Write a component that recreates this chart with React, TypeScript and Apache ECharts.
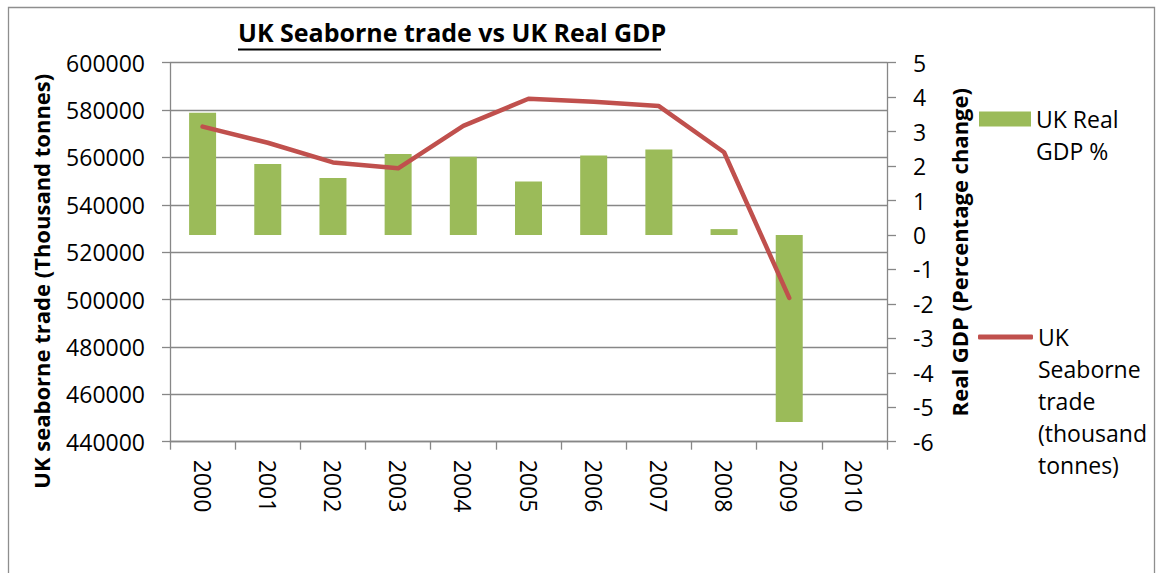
import React, { useEffect, useRef } from 'react';
import * as echarts from 'echarts';

const years = ['2000', '2001', '2002', '2003', '2004', '2005', '2006', '2007', '2008', '2009', '2010'];
const gdpGrowth = [3.55, 2.06, 1.65, 2.35, 2.27, 1.55, 2.31, 2.48, 0.17, -5.43, null];
const seaborneTrade = [573000, 566200, 557900, 555400, 573300, 584800, 583500, 581700, 562200, 500700, null];

const gdpName = 'UK Real GDP %';
const tradeName = 'UK Seaborne trade (thousand tonnes)';

export default function App() {
  const ref = useRef<HTMLDivElement>(null);
  useEffect(() => {
    const chart = echarts.init(ref.current as HTMLDivElement, null, { renderer: 'svg' });
    const font = "'Open Sans', sans-serif";
    const gray = '#878787';
    chart.setOption({
      animation: false,
      backgroundColor: '#ffffff',
      title: {
        text: 'UK Seaborne trade vs UK Real GDP',
        left: 238,
        top: 19,
        padding: 0,
        textStyle: { fontFamily: font, fontSize: 25, fontWeight: 'bold', color: '#000' },
      },
      graphic: [
        {
          type: 'rect',
          silent: true,
          z: -10,
          shape: { x: 8.5, y: 7.5, width: 1146, height: 640 },
          style: { fill: 'none', stroke: '#8e8e8e', lineWidth: 1.3 },
        },
        {
          type: 'line',
          silent: true,
          shape: { x1: 238, y1: 49.5, x2: 661, y2: 49.5 },
          style: { stroke: '#000', lineWidth: 2 },
        },
      ],
      grid: { left: 170, right: 273, top: 62.7, bottom: 131.3, containLabel: false, outerBoundsMode: 'none' },
      legend: [
        {
          data: [gdpName],
          orient: 'vertical',
          left: 979,
          top: 71,
          padding: 0,
          itemWidth: 52,
          itemHeight: 15,
          icon: 'rect',
          selectedMode: false,
          formatter: () => '\nUK Real\nGDP %',
          textStyle: { fontFamily: font, fontSize: 23, lineHeight: 32, color: '#000' },
        },
        {
          data: [tradeName],
          orient: 'vertical',
          left: 978,
          top: 193,
          padding: 0,
          itemWidth: 55,
          itemHeight: 5,
          icon: 'roundRect',
          selectedMode: false,
          formatter: () => '\n\n\n\nUK\nSeaborne\ntrade\n(thousand\ntonnes)',
          textStyle: { fontFamily: font, fontSize: 23, lineHeight: 32, color: '#000' },
        },
      ],
      xAxis: {
        type: 'category',
        data: years,
        boundaryGap: true,
        axisLine: { show: true, onZero: false, lineStyle: { color: gray, width: 1.3 } },
        axisTick: { show: true, length: 8, lineStyle: { color: gray, width: 1.3 } },
        axisLabel: { rotate: -90, margin: 18, interval: 0, fontFamily: font, fontSize: 23, color: '#000' },
        splitLine: { show: false },
      },
      yAxis: [
        {
          type: 'value',
          position: 'left',
          min: 440000,
          max: 600000,
          interval: 20000,
          name: 'UK seaborne trade (Thousand tonnes)',
          nameLocation: 'middle',
          nameRotate: 90,
          nameGap: 118,
          nameTextStyle: { fontFamily: font, fontSize: 22, fontWeight: 'bold', color: '#000', padding: [0, 58, 0, 0] },
          axisLine: { show: true, lineStyle: { color: gray, width: 1.3 } },
          axisTick: { show: true, length: 8, lineStyle: { color: gray, width: 1.3 } },
          axisLabel: { margin: 25, fontFamily: font, fontSize: 23, color: '#000', formatter: (v: number) => String(v) },
          splitLine: { show: true, lineStyle: { color: gray, width: 1.3 } },
        },
        {
          type: 'value',
          position: 'right',
          min: -6,
          max: 5,
          interval: 1,
          name: 'Real GDP (Percentage change)',
          nameLocation: 'middle',
          nameRotate: 90,
          nameGap: 61,
          nameTextStyle: { fontFamily: font, fontSize: 22, fontWeight: 'bold', color: '#000' },
          axisLine: { show: true, lineStyle: { color: gray, width: 1.3 } },
          axisTick: { show: true, length: 9, lineStyle: { color: gray, width: 1.3 } },
          axisLabel: { margin: 26, fontFamily: font, fontSize: 23, color: '#000' },
          splitLine: { show: false },
        },
      ],
      series: [
        {
          name: gdpName,
          type: 'bar',
          yAxisIndex: 1,
          data: gdpGrowth,
          barWidth: 27,
          itemStyle: { color: '#9BBB59' },
        },
        {
          name: tradeName,
          type: 'line',
          yAxisIndex: 0,
          data: seaborneTrade,
          symbol: 'none',
          showSymbol: false,
          lineStyle: { color: '#C0504D', width: 4.5, cap: 'round', join: 'round' },
          itemStyle: { color: '#C0504D' },
        },
      ],
    });
    return () => chart.dispose();
  }, []);
  return (
    <div
      ref={ref}
      style={{ position: 'absolute', left: 0, top: 0, width: 1160, height: 573 }}
    />
  );
}
